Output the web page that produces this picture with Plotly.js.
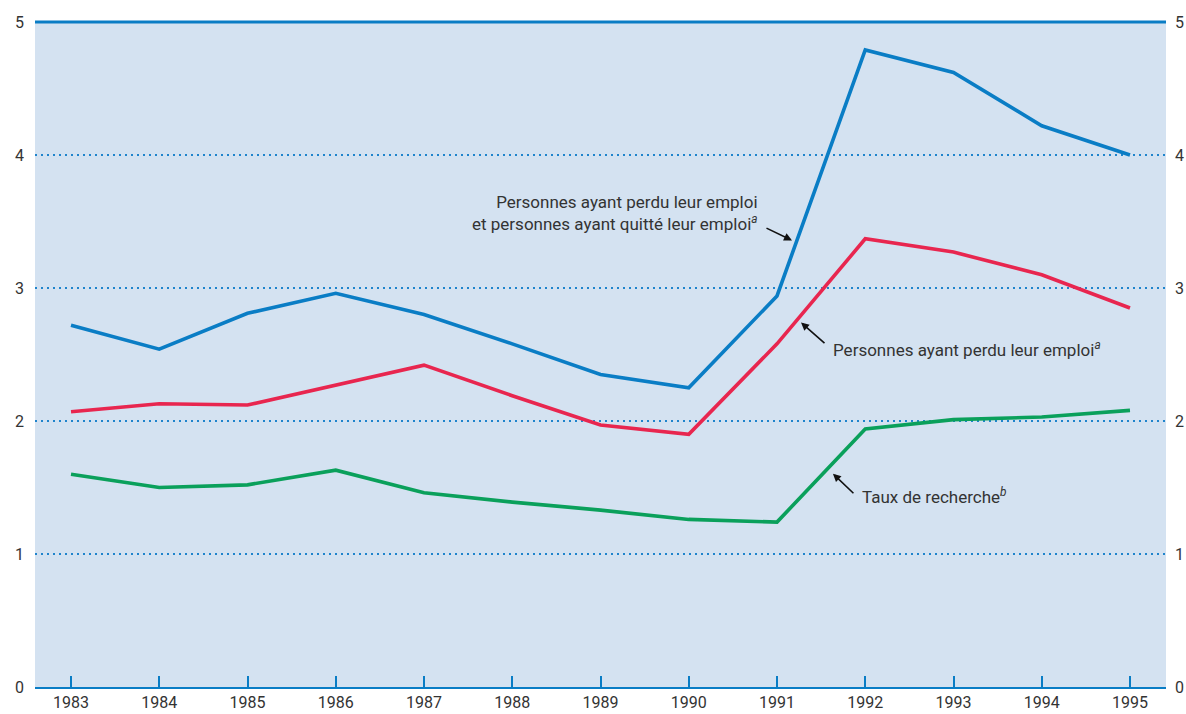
<!DOCTYPE html>
<html><head><meta charset="utf-8">
<script src="https://cdn.plot.ly/plotly-3.0.1.min.js"></script>
<style>html,body{margin:0;padding:0;background:#fff}</style>
</head><body>
<div id="chart" style="width:1186px;height:714px"></div>
<script>
const years = [1983,1984,1985,1986,1987,1988,1989,1990,1991,1992,1993,1994,1995];
const perdusEtQuittes = [2.72,2.54,2.81,2.96,2.80,2.58,2.35,2.25,2.94,4.79,4.62,4.22,4.00];
const perdus = [2.07,2.13,2.12,2.27,2.42,2.19,1.97,1.90,2.58,3.37,3.27,3.10,2.85];
const tauxRecherche = [1.60,1.50,1.52,1.63,1.46,1.39,1.33,1.26,1.24,1.94,2.01,2.03,2.08];
const yTicks = [0,1,2,3,4,5];
const labelA = "Personnes ayant perdu leur emploi<br>et personnes ayant quitté leur emploi<sup><i>a</i></sup>";
const labelB = "Personnes ayant perdu leur emploi<sup><i>a</i></sup>";
const labelC = "Taux de recherche<sup><i>b</i></sup>";

const FONT = "Liberation Sans Narrow, Roboto, Arial Narrow, sans-serif";
const BLUE = "#0a7dc5", RED = "#e8264f", GREEN = "#0aa05b", TXT = "#333";

const traces = [
  {x: years, y: perdusEtQuittes, mode: "lines", line: {color: BLUE, width: 3.6}, hoverinfo: "skip"},
  {x: years, y: perdus, mode: "lines", line: {color: RED, width: 3.6}, hoverinfo: "skip"},
  {x: years, y: tauxRecherche, mode: "lines", line: {color: GREEN, width: 3.6}, hoverinfo: "skip"},
  {x: [years[0]], y: [0], yaxis: "y2", mode: "markers", marker: {opacity: 0}, hoverinfo: "skip"}
];

const arrow = (x, y, ax, ay) => ({x, y, ax, ay, xref: "x", yref: "y", axref: "pixel", ayref: "pixel",
  text: "", showarrow: true, arrowhead: 2, arrowsize: 1, arrowwidth: 1.6, arrowcolor: "#111"});
const label = (x, y, text, xanchor, align) => ({x, y, xref: "x", yref: "y", text, showarrow: false,
  xanchor, yanchor: "middle", align, font: {family: FONT, size: 17, color: TXT}});

const layout = {
  width: 1186, height: 714,
  margin: {l: 35, r: 20, t: 22, b: 27},
  paper_bgcolor: "#ffffff", plot_bgcolor: "#d4e2f1",
  showlegend: false,
  font: {family: FONT, color: TXT, size: 16},
  xaxis: {range: [1982.592, 1995.408], tickvals: years, ticktext: years.map(String),
    showgrid: false, zeroline: false, showline: true, linecolor: BLUE, linewidth: 2,
    ticks: "inside", ticklen: 11, tickwidth: 2, tickcolor: BLUE,
    tickfont: {family: FONT, size: 16, color: TXT}, fixedrange: true},
  yaxis: {range: [0, 5], tickvals: yTicks, showgrid: true, gridcolor: "#1f84cc", griddash: "2px,4px", gridwidth: 1.6,
    zeroline: false, showline: false, ticks: "", ticklabelstandoff: 10,
    tickfont: {family: FONT, size: 16, color: TXT}, fixedrange: true},
  yaxis2: {range: [0, 5], tickvals: yTicks, overlaying: "y", side: "right", showgrid: false,
    zeroline: false, showline: false, ticks: "", ticklabelstandoff: 8,
    tickfont: {family: FONT, size: 16, color: TXT}, fixedrange: true},
  shapes: [{type: "line", xref: "paper", yref: "paper", x0: 0, x1: 1, y0: 1, y1: 1,
    line: {color: BLUE, width: 3}}],
  annotations: [
    arrow(1991.170, 3.358, -27, -13),
    label(1990.807, 3.562, labelA, "right", "right"),
    arrow(1991.272, 2.741, 25, 22),
    label(1991.612, 2.545, labelB, "left", "left"),
    arrow(1991.634, 1.604, 22, 21),
    label(1991.940, 1.438, labelC, "left", "left")
  ]
};
Plotly.newPlot("chart", traces, layout, {displayModeBar: false, staticPlot: true});
</script>
</body></html>
